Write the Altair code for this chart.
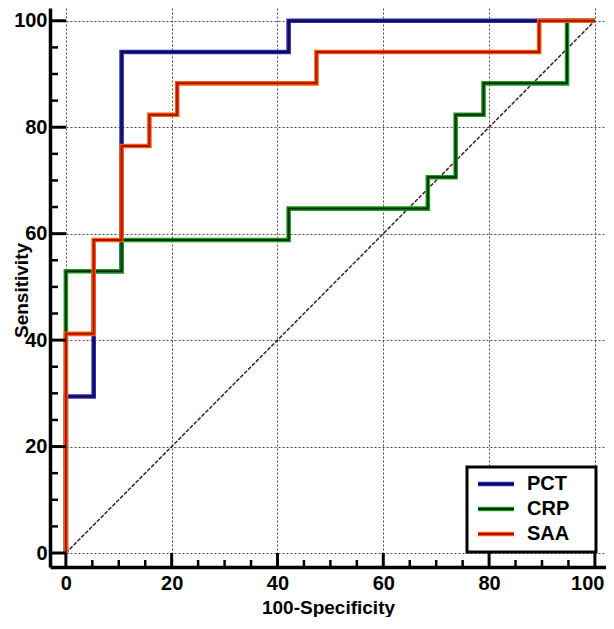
import altair as alt
import pandas as pd

# ---------------- data ----------------
series_names = ["PCT", "CRP", "SAA"]

pct_fpr = [0, 0, 5.26, 5.26, 10.53, 10.53, 42.11, 42.11, 100]
pct_sens = [0, 29.41, 29.41, 52.94, 52.94, 94.12, 94.12, 100, 100]

crp_fpr = [0, 0, 10.53, 10.53, 42.11, 42.11, 68.42, 68.42, 73.68, 73.68,
           78.95, 78.95, 94.74, 94.74, 100]
crp_sens = [0, 52.94, 52.94, 58.82, 58.82, 64.71, 64.71, 70.59, 70.59, 82.35,
            82.35, 88.24, 88.24, 100, 100]

saa_fpr = [0, 0, 5.26, 5.26, 10.53, 10.53, 15.79, 15.79, 21.05, 21.05,
           47.37, 47.37, 89.47, 89.47, 100]
saa_sens = [0, 41.18, 41.18, 58.82, 58.82, 76.47, 76.47, 82.35, 82.35, 88.24,
            88.24, 94.12, 94.12, 100, 100]

diag_vals = [0, 100]
axis_values = [0, 20, 40, 60, 80, 100]
tick_values = list(range(0, 101, 5))

# ---------------- styling ----------------
edge_colors = ["#2a2ac0", "#1c9c1c", "#ff5a0a"]
core_colors = ["#0c0c40", "#063006", "#a81400"]
FONT = "Liberation Sans"
FS = 20
TFS = 19
W, H = 556, 559
X_DOMAIN = [-3.0, 102.1]
Y_DOMAIN = [-2.63, 102.4]

xs = alt.Scale(domain=X_DOMAIN, nice=False, zero=False)
ys = alt.Scale(domain=Y_DOMAIN, nice=False, zero=False)

x_axis = alt.Axis(values=axis_values, grid=True, gridDash=[2, 2], gridColor="#4a4a4a",
                  gridWidth=1, ticks=False, domainColor="black", domainWidth=3.5,
                  labelFont=FONT, labelFontSize=FS, labelFontWeight="bold",
                  labelColor="black", labelPadding=6, labelFlush=12, labelFlushOffset=9,
                  title="100-Specificity", titleFont=FONT, titleFontSize=TFS,
                  titleFontWeight="bold", titleColor="black", titleBaseline="alphabetic",
                  titleY=46)
y_axis = alt.Axis(values=axis_values, grid=True, gridDash=[2, 2], gridColor="#4a4a4a",
                  gridWidth=1, ticks=False, domainColor="black", domainWidth=3.5,
                  labelFont=FONT, labelFontSize=FS, labelFontWeight="bold",
                  labelColor="black", labelPadding=3, labelFlush=False,
                  title="Sensitivity", titleFont=FONT, titleFontSize=TFS,
                  titleFontWeight="bold", titleColor="black", titleAngle=270,
                  titleBaseline="middle", titleAlign="center", titleX=-29, titleY=282)


def X(field):
    return alt.X(field, scale=xs, axis=x_axis, title="100-Specificity")


def Y(field):
    return alt.Y(field, scale=ys, axis=y_axis, title="Sensitivity")


# diagonal reference
diag_df = pd.DataFrame({"x": diag_vals, "y": diag_vals})
diag = alt.Chart(diag_df).mark_line(color="#4a1a28", strokeWidth=1.5, strokeDash=[4, 1.5]).encode(
    x=X("x:Q"), y=Y("y:Q"))

layers = [diag]
for name, fx, sy, ec, cc in zip(series_names, [pct_fpr, crp_fpr, saa_fpr],
                                [pct_sens, crp_sens, saa_sens], edge_colors, core_colors):
    df = pd.DataFrame({"x": fx, "y": sy, "i": range(len(fx)), "series": name})
    enc = dict(x=X("x:Q"), y=Y("y:Q"), order=alt.Order("i:Q"))
    layers.append(alt.Chart(df).mark_line(color=ec, strokeWidth=4.6, strokeJoin="miter").encode(**enc))
    layers.append(alt.Chart(df).mark_line(color=cc, strokeWidth=2.0, strokeJoin="miter").encode(**enc))

# inward axis ticks
tick_df = pd.DataFrame({"v": tick_values})
maj = "datum.v % 20 == 0"
mnr = "datum.v % 20 != 0"
layers += [
    alt.Chart(tick_df).transform_filter(maj).mark_rule(color="black", strokeWidth=3).encode(
        x=X("v:Q"), y=alt.value(H), y2=alt.value(H - 14)),
    alt.Chart(tick_df).transform_filter(mnr).mark_rule(color="black", strokeWidth=2.5).encode(
        x=X("v:Q"), y=alt.value(H), y2=alt.value(H - 7)),
    alt.Chart(tick_df).transform_filter(maj).mark_rule(color="black", strokeWidth=3).encode(
        y=Y("v:Q"), x=alt.value(0), x2=alt.value(16)),
    alt.Chart(tick_df).transform_filter(mnr).mark_rule(color="black", strokeWidth=2.5).encode(
        y=Y("v:Q"), x=alt.value(0), x2=alt.value(8)),
]
main = alt.layer(*layers)

# legend
legend_df = pd.DataFrame({"name": series_names, "rank": [0, 1, 2],
                          "edge": edge_colors, "core": core_colors})
box_df = pd.DataFrame({"k": [0]})
ly = alt.Y("rank:Q", scale=alt.Scale(domain=[0, 2], range=[476, 526]), axis=None)
legend = alt.layer(
    alt.Chart(box_df).mark_rect(fill="white", stroke="black", strokeWidth=3).encode(
        x=alt.value(417), x2=alt.value(546), y=alt.value(459), y2=alt.value(544)),
    alt.Chart(legend_df).mark_rule(strokeWidth=4.6).encode(
        y=ly, x=alt.value(428), x2=alt.value(464), color=alt.Color("edge:N", scale=None)),
    alt.Chart(legend_df).mark_rule(strokeWidth=2.0).encode(
        y=ly, x=alt.value(428), x2=alt.value(464), color=alt.Color("core:N", scale=None)),
    alt.Chart(legend_df).mark_text(align="left", baseline="middle", font=FONT, fontSize=FS,
                                   fontWeight="bold", color="black").encode(
        y=ly, x=alt.value(477), text="name:N"),
)

chart = alt.layer(main, legend).resolve_scale(y="independent").properties(
    width=W, height=H,
    autosize=alt.AutoSizeParams(type="none"),
    padding={"left": 42, "top": 0, "right": 0, "bottom": 50},
    background="white",
).configure_view(stroke=None)

chart.save("out.html", embed_options={"renderer": "svg", "actions": False})
